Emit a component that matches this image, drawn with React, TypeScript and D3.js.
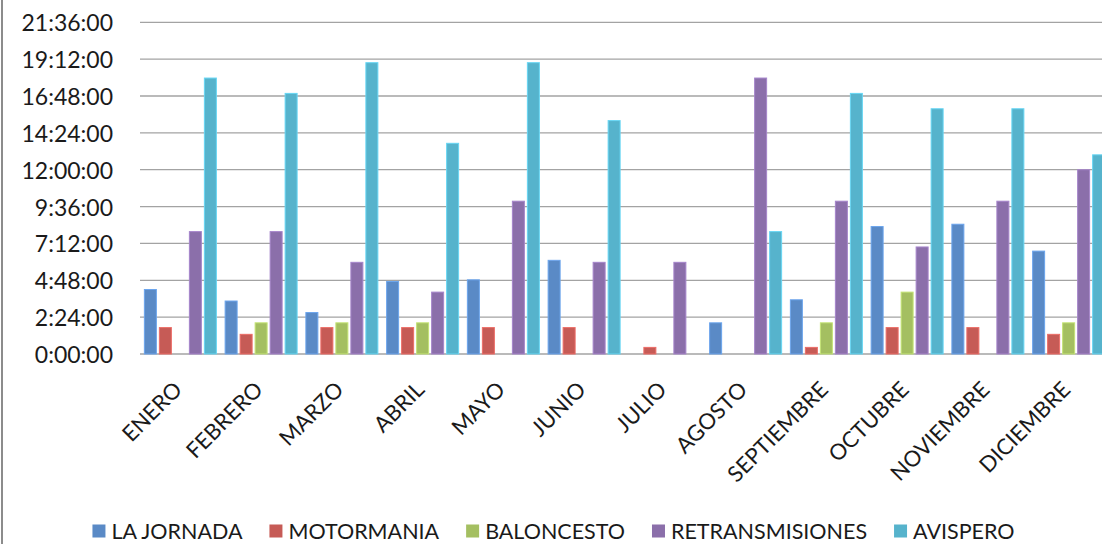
import React, { useEffect, useRef } from "react";
import * as d3 from "d3";

const months = ["ENERO","FEBRERO","MARZO","ABRIL","MAYO","JUNIO","JULIO","AGOSTO","SEPTIEMBRE","OCTUBRE","NOVIEMBRE","DICIEMBRE"];
const seriesNames = ["LA JORNADA","MOTORMANIA","BALONCESTO","RETRANSMISIONES","AVISPERO"];
const seriesColors = ["#5A8AC6","#C65B56","#A4BF61","#8B6FAA","#56B3CC"];
// values in hours
const laJornada = [4.2, 3.45, 2.7, 4.72, 4.83, 6.1, 0, 2.03, 3.53, 8.3, 8.45, 6.7];
const motormania = [1.72, 1.28, 1.72, 1.72, 1.72, 1.72, 0.43, 0, 0.43, 1.72, 1.72, 1.28];
const baloncesto = [0, 2.03, 2.03, 2.03, 0, 0, 0, 0, 2.03, 4.03, 0, 2.03];
const retransmisiones = [7.97, 7.97, 5.97, 4.03, 9.95, 5.97, 5.97, 17.97, 9.95, 6.97, 9.95, 12.0];
const avispero = [17.97, 16.97, 18.97, 13.72, 18.97, 15.2, 0, 7.97, 16.97, 15.97, 15.97, 12.97];
const allSeries = [laJornada, motormania, baloncesto, retransmisiones, avispero];
const yTicks = [0, 2.4, 4.8, 7.2, 9.6, 12, 14.4, 16.8, 19.2, 21.6];

const FONT = "Lato, 'Noto Sans', sans-serif";

function fmt(h: number) {
  const totalSec = Math.round(h * 3600);
  const hh = Math.floor(totalSec / 3600);
  const mm = Math.floor((totalSec % 3600) / 60);
  const ss = totalSec % 60;
  return `${hh}:${String(mm).padStart(2, "0")}:${String(ss).padStart(2, "0")}`;
}

export default function App() {
  const ref = useRef<SVGSVGElement>(null);
  useEffect(() => {
    const svg = d3.select(ref.current);
    svg.selectAll("*").remove();
    const W = 1102, H = 544;
    const left = 140, step = 80.75;
    const bottom = 354, top = 22.3;

    const x0 = d3.scaleBand<string>().domain(months)
      .range([left, left + step * months.length])
      .paddingInner(0.0712).paddingOuter(0.0356);
    const x1 = d3.scaleBand<string>().domain(seriesNames)
      .range([0, x0.bandwidth()]).paddingInner(0.2).paddingOuter(0.1);
    const y = d3.scaleLinear().domain([0, 21.6]).range([bottom, top]);

    svg.append("rect").attr("width", W).attr("height", H).attr("fill", "#fff");
    // left chart border
    svg.append("line").attr("x1", 2).attr("x2", 2).attr("y1", 0).attr("y2", H)
      .attr("stroke", "#8c8c8c").attr("stroke-width", 2);

    // gridlines
    svg.append("g").selectAll("line").data(yTicks).join("line")
      .attr("x1", left).attr("x2", W)
      .attr("y1", d => y(d)).attr("y2", d => y(d))
      .attr("stroke", "#a3a3a3").attr("stroke-width", 1.3);

    // y labels
    svg.append("g").selectAll("text").data(yTicks).join("text")
      .attr("x", 113).attr("y", d => y(d))
      .attr("text-anchor", "end").attr("dominant-baseline", "central")
      .attr("font-family", FONT).attr("font-size", 23).attr("fill", "#1a1a1a")
      .text(d => fmt(d));

    // bars
    const g = svg.append("g");
    months.forEach((m, i) => {
      seriesNames.forEach((s, j) => {
        const v = allSeries[j][i];
        if (!v) return;
        const c = seriesColors[j];
        g.append("rect")
          .attr("x", (x0(m) as number) + (x1(s) as number))
          .attr("y", y(v))
          .attr("width", x1.bandwidth())
          .attr("height", y(0) - y(v))
          .attr("fill", c)
          .attr("stroke", d3.color(c)!.brighter(0.5).formatHex())
          .attr("stroke-width", 1);
      });
    });

    // x labels
    svg.append("g").selectAll("text").data(months).join("text")
      .attr("transform", d => `translate(${(x0(d) as number) + x0.bandwidth() / 2 - 3},${385}) rotate(-45)`)
      .attr("text-anchor", "end").attr("dominant-baseline", "central")
      .attr("font-family", FONT).attr("font-size", 22).attr("fill", "#1a1a1a")
      .text(d => d);

    // legend
    const lg = svg.append("g");
    const items = seriesNames.map((s, j) => {
      const it = lg.append("g");
      it.append("rect").attr("width", 13).attr("height", 13).attr("y", -6.5)
        .attr("fill", seriesColors[j]);
      const t = it.append("text").attr("x", 19).attr("y", 0)
        .attr("dominant-baseline", "central")
        .attr("font-family", FONT).attr("font-size", 21.5).attr("fill", "#1a1a1a")
        .text(s);
      const w = 19 + (t.node() as SVGTextElement).getComputedTextLength();
      return { it, w };
    });
    const gap = 27;
    const total = d3.sum(items, d => d.w) + gap * (items.length - 1);
    let cx = 553.5 - total / 2;
    items.forEach(({ it, w }) => {
      it.attr("transform", `translate(${cx},${531})`);
      cx += w + gap;
    });
  }, []);
  return (
    <svg ref={ref} width={1102} height={544}
      style={{ position: "absolute", left: 0, top: 0, display: "block" }} />
  );
}
